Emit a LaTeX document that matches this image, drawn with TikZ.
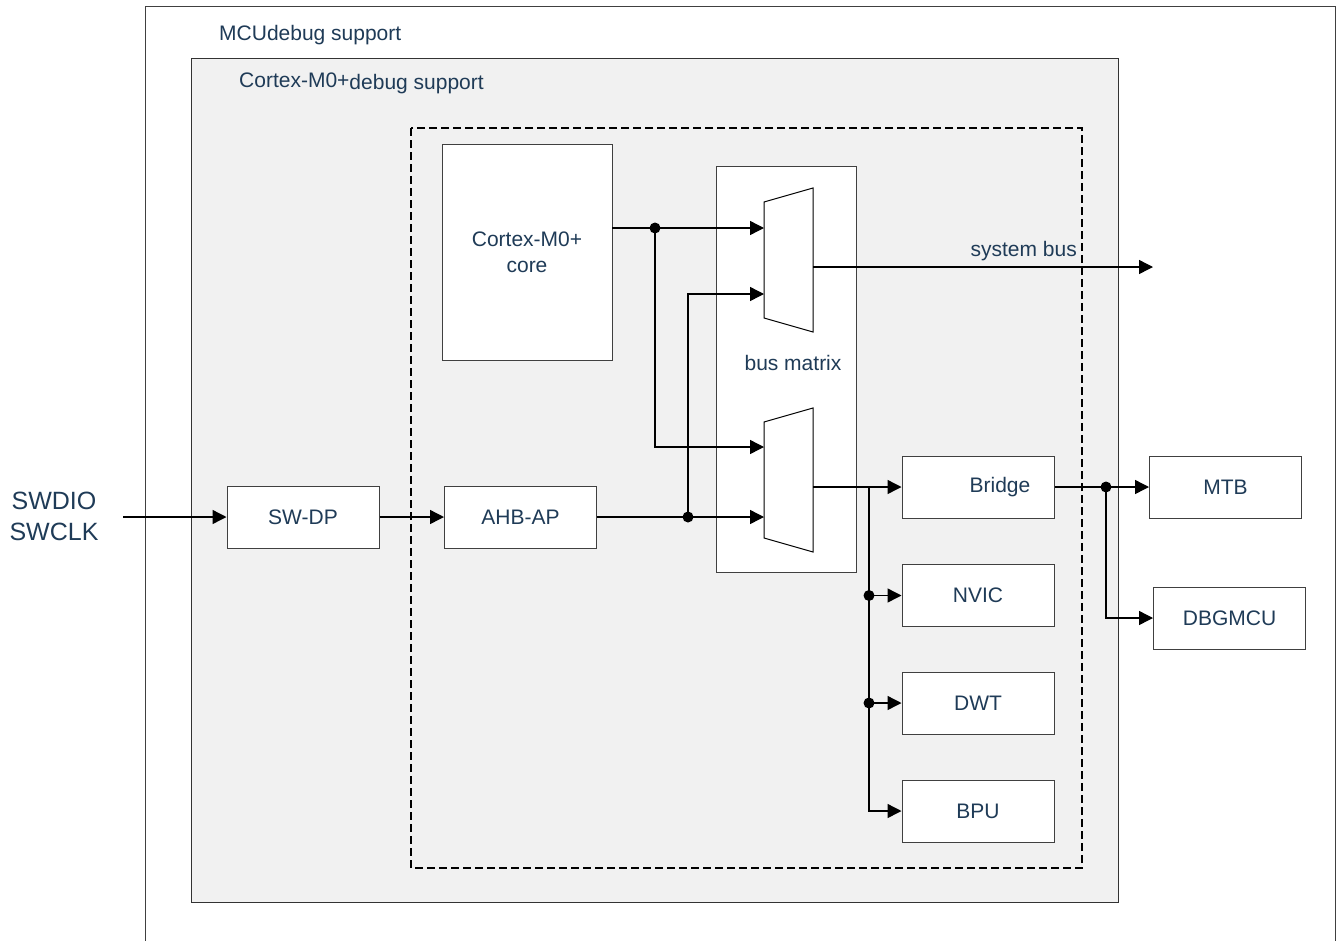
\documentclass[tikz,border=0pt]{standalone}
\usepackage{fontspec}
\setmainfont{Liberation Sans}
\usetikzlibrary{arrows.meta}
\definecolor{txt}{HTML}{1F3B57}
\definecolor{panel}{HTML}{F1F1F1}
\begin{document}
\begin{tikzpicture}[x=1pt,y=-1pt,
 box/.style={draw=black!75,line width=1pt,fill=white,minimum width=152pt,minimum height=62pt,inner sep=0pt,text=txt,font=\fontsize{21}{26}\selectfont},
 wire/.style={line width=1.4pt},
 arr/.style={wire,-{Triangle[length=14pt,width=14pt]}},
 dot/.style={circle,fill=black,inner sep=0pt,minimum size=11pt},
 lbl/.style={text=txt,font=\fontsize{21}{26}\selectfont,inner sep=0pt},
 mux/.style={draw=black,line width=1pt,fill=white}]
\useasboundingbox (0,0) rectangle (1336,940);
% frames
\draw[draw=black!75,line width=1pt,fill=white] (145,960) -- (145,6) -- (1335,6) -- (1335,960);
\node[lbl,anchor=base west] (mculbl) at (219,40) {MCUdebug support};
\draw[draw=black!80,line width=1pt,fill=panel] (191,58) rectangle (1118,902);
\node[lbl,anchor=base west] (cmlbl) at (239,87) {Cortex-M0+\raisebox{-2pt}{debug support}};
\draw[dash pattern=on 8pt off 4pt,line width=1.3pt] (411,128) rectangle (1082,868);
% blocks
\node[box,minimum width=170pt,minimum height=216pt,align=center] (core) at (527,252) {Cortex-M0+\\core};
\node[box,minimum width=140pt,minimum height=406pt] (bm) at (786,369) {};
\node[lbl] (bmlbl) at (793,363) {bus matrix};
\node[box] (swdp) at (303,517) {SW-DP};
\node[box] (ahb) at (520.5,517) {AHB-AP};
\node[box] (bridge) at (978,487) {\hspace*{44pt}Bridge};
\node[box] (nvic) at (978,595.5) {NVIC};
\node[box] (dwt) at (978,703) {DWT};
\node[box] (bpu) at (978,811) {BPU};
\node[box] (mtb) at (1225.5,487) {MTB};
\node[box] (dbg) at (1229.5,618) {DBGMCU};
\node[lbl,align=center,font=\fontsize{25}{31}\selectfont] (sw) at (54,516) {SWDIO\\SWCLK};
% muxes
\draw[mux] (764,202) -- (813,188) -- (813,332) -- (764,318) -- cycle;
\draw[mux] (764,422) -- (813,408) -- (813,552) -- (764,538) -- cycle;
\coordinate (m1a) at (764,228);
\coordinate (m1b) at (764,294);
\coordinate (m1o) at (813,267);
\coordinate (m2a) at (764,447);
\coordinate (m2b) at (764,517);
\coordinate (m2o) at (813,487);
\coordinate (swin) at (123,517);
\coordinate (coreout) at (612,228);
\coordinate (sysbus) at (1153,267);
\coordinate (j1) at (655,228);
\coordinate (j2) at (688,517);
\coordinate (j3) at (869,487);
\coordinate (j4) at (1106,487);
% connectors
\draw[arr] (swin) -- (swdp.west);
\draw[arr] (swdp.east) -- (ahb.west);
\draw[arr] (ahb.east) -- (m2b);
\draw[arr] (j2) |- (m1b);
\draw[arr] (coreout) -- (m1a);
\draw[arr] (j1) |- (m2a);
\draw[arr] (m1o) -- (sysbus);
\node[lbl,anchor=base east] (sblbl) at (1077,256) {system bus};
\draw[arr] (m2o) -- (bridge.west);
\draw[arr] (j3) |- (nvic.west);
\draw[arr] (j3) |- (dwt.west);
\draw[arr] (j3) |- (bpu.west);
\draw[arr] (bridge.east) -- (mtb.west);
\draw[arr] (j4) |- (dbg.west);
% dots
\node[dot] (d1) at (j1) {};
\node[dot] (d2) at (j2) {};
\node[dot] (d3) at (869,595.5) {};
\node[dot] (d4) at (869,703) {};
\node[dot] (d5) at (j4) {};
\end{tikzpicture}
\end{document}
